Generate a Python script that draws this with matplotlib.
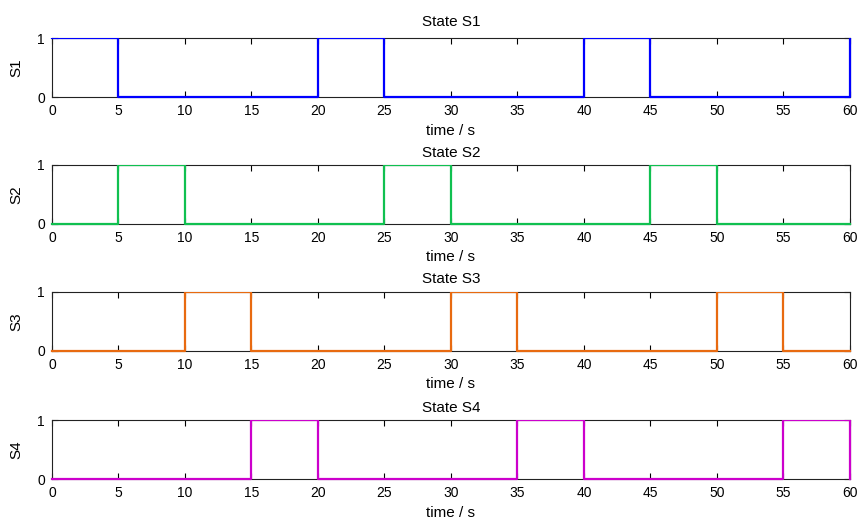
import matplotlib as mpl
mpl.use('Agg')
import matplotlib.pyplot as plt
from matplotlib.transforms import Bbox, TransformedBbox

# switching times (s) and state values; last entry is the value at t = 60 s
t = [0, 5, 10, 15, 20, 25, 30, 35, 40, 45, 50, 55, 60]
s1 = [1, 0, 0, 0, 1, 0, 0, 0, 1, 0, 0, 0, 1]
s2 = [0, 1, 0, 0, 0, 1, 0, 0, 0, 1, 0, 0, 0]
s3 = [0, 0, 1, 0, 0, 0, 1, 0, 0, 0, 1, 0, 0]
s4 = [0, 0, 0, 1, 0, 0, 0, 1, 0, 0, 0, 1, 0]
names = ['S1', 'S2', 'S3', 'S4']
colors = ['#0000ff', '#10c050', '#e86a10', '#cc00cc']
xticks = list(range(0, 61, 5))

plt.rcParams['font.family'] = ['Liberation Sans', 'DejaVu Sans']
plt.rcParams['font.size'] = 10

fig = plt.figure(figsize=(8.66, 5.22), dpi=100)
bottoms = [0.814, 0.571, 0.328, 0.082]
title_pad = [9, 6, 6, 6]
for i, s in enumerate([s1, s2, s3, s4]):
	ax = fig.add_axes([0.060, bottoms[i], 0.9215, 0.113])
	ln, = ax.step(t, s, where='post', color=colors[i], lw=1.6, zorder=3)
	# let the edge lines show in full at left, right and bottom, clip at top
	ln.set_clip_box(TransformedBbox(Bbox([[-0.01, -0.05], [1.01, 1.0]]), ax.transAxes))
	ax.set_xlim(0, 60)
	ax.set_ylim(0, 1)
	ax.set_xticks(xticks)
	ax.set_yticks([0, 1])
	ax.tick_params(direction='in', top=True, right=True, length=4, pad=5, width=0.8)
	for sp in ax.spines.values():
		sp.set_linewidth(0.8)
		sp.set_color('#222222')
	ax.set_xlabel('time / s', fontsize=11, labelpad=4)
	ax.set_ylabel(names[i], fontsize=11, labelpad=10)
	ax.set_title('State ' + names[i], fontsize=11, pad=title_pad[i])

plt.savefig('out.png')
